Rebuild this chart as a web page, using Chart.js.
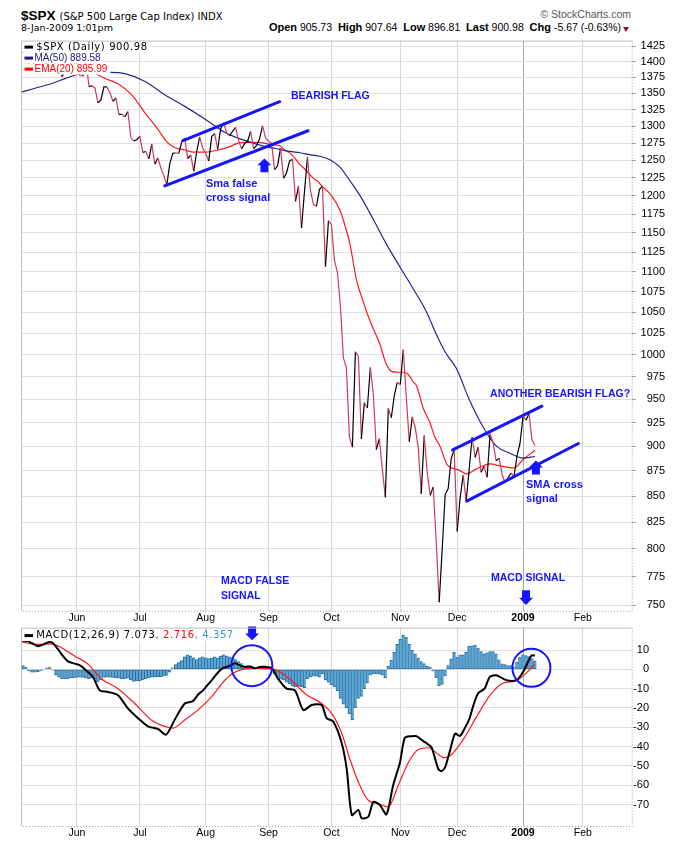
<!DOCTYPE html>
<html>
<head>
<meta charset="utf-8">
<script src="https://cdn.jsdelivr.net/npm/chart.js@4.4.0/dist/chart.umd.min.js"></script>
<style>
  body { margin: 0; background: #fff; width: 700px; height: 860px; position: relative; overflow: hidden; }
  .hd { position: absolute; white-space: nowrap; line-height: 14px; color: #000; }
  .hd b { font: bold 11px "Liberation Sans", Arial, sans-serif; }
  #priceChart { position: absolute; left: 0; top: 30px; }
  #macdChart { position: absolute; left: 0; top: 620px; }
</style>
</head>
<body>
<div class="hd" style="left:21px;top:8px;"><span style="font:bold 13.5px 'Liberation Sans',Arial,sans-serif">$SPX</span> <span style="font:10px 'DejaVu Sans',sans-serif">(S&amp;P 500 Large Cap Index) INDX</span></div>
<div class="hd" style="right:69px;top:8px;font:10.5px 'Liberation Sans',Arial,sans-serif;color:#555">&copy; StockCharts.com</div>
<div class="hd" style="left:21px;top:22px;font:9.5px 'DejaVu Sans',sans-serif">8-Jan-2009 1:01pm</div>
<div class="hd" style="right:79px;top:21px;font:10.5px 'Liberation Sans',Arial,sans-serif"><b>Open</b> 905.73&nbsp; <b>High</b> 907.64&nbsp; <b>Low</b> 896.81&nbsp; <b>Last</b> 900.98&nbsp; <b>Chg</b> -5.67 (-0.63%)</div>
<div style="position:absolute;left:623px;top:27px;width:0;height:0;border-left:3.5px solid transparent;border-right:3.5px solid transparent;border-top:5px solid #8b1538"></div>

<canvas id="priceChart" width="665" height="600"></canvas>
<canvas id="macdChart" width="649" height="240"></canvas>

<script>
// x = trading day index, 0 = 5-May-2008
const monthIdx = [19, 40, 62, 83, 104, 127, 146, 168, 188];
const monthLabels = ['Jun', 'Jul', 'Aug', 'Sep', 'Oct', 'Nov', 'Dec', '2009', 'Feb'];

const priceTicks = [750, 775, 800, 825, 850, 875, 900, 925, 950, 975, 1000, 1025, 1050, 1075, 1100,
  1125, 1150, 1175, 1200, 1225, 1250, 1275, 1300, 1325, 1350, 1375, 1400, 1425];
const macdTicks = [10, 0, -10, -20, -30, -40, -50, -60, -70];

// daily closes May 5 2008 .. Jan 8 2009
const closes = [
  1407.49, 1418.26, 1392.57, 1397.68, 1388.28, 1403.58, 1403.04, 1408.66, 1423.57, 1425.35,
  1426.63, 1413.40, 1390.71, 1394.35, 1375.93, 1385.35, 1390.84, 1398.26, 1400.38,
  1385.67, 1377.65, 1377.20, 1404.05, 1360.68, 1361.76, 1358.44, 1335.49, 1339.87, 1360.03,
  1360.14, 1350.93, 1337.81, 1342.83, 1317.93, 1318.00, 1314.29, 1321.97, 1283.15, 1278.38, 1280.00,
  1284.91, 1261.52, 1262.90, 1252.31, 1273.70, 1244.69, 1253.39, 1239.49, 1228.30, 1214.91,
  1245.36, 1260.32, 1260.68, 1260.00, 1277.00, 1282.19, 1252.54, 1257.76, 1234.37, 1263.20, 1284.26, 1267.38,
  1260.31, 1249.01, 1284.88, 1289.19, 1266.07, 1296.32, 1305.32, 1289.59, 1285.83, 1292.93,
  1298.20, 1278.60, 1266.69, 1274.54, 1277.72, 1292.20, 1266.84, 1271.51, 1281.66, 1300.68, 1282.83,
  1277.58, 1274.98, 1236.83, 1242.31, 1267.79, 1224.51, 1232.04, 1249.05, 1251.70, 1192.70,
  1213.60, 1156.39, 1206.51, 1255.08, 1207.09, 1188.22, 1185.87, 1209.18, 1213.27, 1106.39, 1166.36,
  1161.06, 1114.28, 1099.23, 1056.89, 996.23, 984.94, 909.92, 899.22, 1003.35, 998.01,
  907.84, 946.43, 940.55, 985.40, 955.05, 896.78, 908.11, 876.77, 848.92, 940.51, 930.09, 954.09, 968.75,
  966.30, 1005.75, 952.77, 904.88, 930.99, 919.21, 898.95, 852.30, 911.29, 873.29,
  850.75, 859.12, 806.58, 752.44, 800.03, 851.81, 857.39, 887.68, 896.24,
  816.21, 848.81, 870.74, 845.22, 876.07, 909.70, 888.67, 899.24, 873.59, 879.73,
  868.57, 913.18, 904.42, 885.28, 887.88, 871.63, 863.16, 868.15, 872.80, 869.42, 890.64, 903.25,
  931.80, 927.45, 934.70, 906.65, 900.98
];

// MA(50)
const ma50X = [0.4, 5, 10.4, 15, 19.3, 25, 30, 35, 41.6, 48.3, 55, 61.7, 68.3, 73, 77.2, 83.9, 86.8, 90,
  93.5, 97, 100.2, 103.5, 106.9, 110.2, 113.6, 118, 122.4, 126.9, 131.4, 135.8, 139.1, 142, 145.8, 150,
  154.7, 159.2, 163.6, 168, 172];
const ma50Y = [1352, 1358, 1365, 1373, 1380, 1382, 1383, 1381, 1369, 1348, 1330, 1311, 1291, 1282, 1276,
  1268, 1266, 1263, 1261, 1258, 1256, 1251, 1240, 1221, 1200, 1168, 1135, 1106, 1078, 1050, 1023, 1003,
  984, 950, 920, 900, 893, 888, 889.6];

// EMA(20)
const ema20X = [0, 6, 12, 18, 22, 25, 28, 32.7, 37.2, 41.6, 46.1, 49.4, 52, 55, 58, 61.7, 66.1, 70, 72.8,
  76, 79.5, 83.9, 86.8, 88, 90.6, 93.5, 95, 97.9, 99.5, 101, 103.5, 106.9, 108.5, 110.2, 112.4, 114.6,
  115.8, 118, 120.2, 122, 124.1, 126, 128, 129.5, 131.4, 132.4, 134.7, 136.9, 138.5, 140.3, 142.5, 144.2,
  146.5, 149.2, 152.5, 157, 160.4, 164.9, 168.2, 172];
const ema20Y = [1385, 1393, 1400, 1398, 1390, 1382, 1374, 1365, 1348, 1321, 1295, 1275, 1268, 1265, 1262,
  1262, 1265, 1270, 1275, 1276, 1276, 1273, 1271, 1266, 1259, 1244, 1238, 1225, 1220, 1213, 1203, 1180,
  1160, 1135, 1089, 1063, 1050, 1030, 1012, 992, 981, 980, 980, 978, 969, 965, 940, 925, 910, 900, 882,
  878, 876, 872, 877, 882, 880, 878, 887, 896];

// MACD(12,26,9) line
const macdX = [0.4, 2.6, 4, 6, 8, 9.9, 11, 12.7, 14, 16, 18.8, 20, 21.6, 24.4, 26.6, 29.4, 32.7, 36, 39.4,
  42.7, 46.1, 48.8, 51.6, 55, 57.7, 59.5, 61.1, 63.9, 67.2, 70, 71.8, 73.5, 75.1, 77, 78.5, 80, 81.8, 84,
  86.2, 89, 91.8, 94.6, 97.4, 100.7, 102.4, 104.6, 107.4, 109.1, 110.8, 113, 114.1, 116.3, 118, 120.2,
  122.4, 124.6, 126.9, 128.5, 130.8, 132.4, 134.7, 136, 137.5, 139.7, 140.8, 142, 143.6, 145.3, 146.9,
  148.6, 150.2, 151.3, 153, 155.2, 156.9, 159.1, 162.4, 165.8, 168, 170.8, 172];
const macdY = [14.9, 14.6, 13.5, 12.0, 13.0, 14.3, 13.5, 10.3, 7.5, 4.1, 2.7, 2.0, 0.1, -4.1, -10.9, -11.7,
  -13.4, -20.2, -25.3, -29.5, -30.9, -33.8, -26.2, -17.7, -16.5, -13.0, -10.9, -5.8, 0.1, 1.8, 3.1, 2.0,
  1.3, 1.5, 0.5, 1.2, 1.3, 0.7, -4.9, -10.0, -10.9, -21.1, -18.5, -18.5, -25.3, -27.0, -38.0, -51.6, -75.4,
  -72.8, -77.1, -76.3, -68.6, -70.3, -75.1, -60.1, -48.2, -35.5, -34.6, -34.6, -37.2, -38.5, -40.6, -51.6,
  -52.7, -50.6, -42.1, -33.3, -34.5, -30.3, -25.2, -19.2, -12.4, -9.9, -3.9, -3.1, -5.6, -5.6, -1.4, 7.1, 7.1];

// signal line
const signalX = [0.4, 6, 10.4, 13.8, 18.2, 22.7, 27.1, 32.7, 38.3, 43.8, 48.3, 51.1, 55, 59.4, 63.9, 68.3,
  71.1, 75.1, 79.6, 84, 87.9, 91.8, 95.2, 100.7, 104.1, 107.4, 110.2, 113, 116.3, 119.6, 123, 126.3, 129.7,
  133, 136.4, 139.7, 141.4, 143.6, 148, 152.5, 157, 161.4, 165.3, 168.1, 172];
const signalY = [14.3, 12.9, 13.2, 11.2, 6.9, 2.7, -4.9, -10.0, -17.7, -26.2, -29.5, -30.4, -26.2, -21.1,
  -14.3, -5.8, -2.0, 0.2, 0.5, 0.2, -2.4, -7.5, -12.6, -17.7, -22.8, -33.0, -46.6, -58.4, -67.8, -69.5,
  -71.2, -60.1, -48.2, -41.5, -40.6, -44.0, -45.7, -44.8, -36.4, -24.5, -13.4, -7.1, -6.1, -3.3, 2.7];

// histogram, one bar per trading day
const histVals = [
  2.5, 2, 1, -1, -1.5, -1.5, -1.2, -0.8, -0.3, 0.8,
  1.2, -0.5, -3, -4, -5, -5, -5, -4.5, -4.3, -4.2,
  -4, -4.2, -4.5, -4.8, -4.5, -5, -6.5, -5.5, -4.2, -4,
  -4, -4.2, -4.5, -4.6, -4.8, -5, -4.6, -5.5, -6.2, -6,
  -6, -5.5, -5, -4.5, -4, -4, -3.8, -3.8, -3.5, -3.2,
  -1.5, 0.8, 2.5, 3.5, 4.5, 6.5, 7.5, 7, 6, 5,
  6, 6.5, 6, 5.5, 5.8, 6.5, 6, 6.8, 7.5, 7,
  6.5, 6, 5, 4, 3, 1.5, 1, 1, 1.2, 0.8,
  1, 1.2, 1, 0.8, -0.5, -2.4, -4, -5, -5.5, -6.6,
  -7.5, -8.4, -9, -8.4, -9, -9.5, -5, -4, -3.5, -3.5,
  -4, -2.4, -5.5, -6.6, -8, -9, -11, -15, -18, -20,
  -23, -26, -20, -15, -14, -10, -7, -3, -2.4, -2.4,
  -2.5, -3, -4.3, 1.7, 4.6, 8.8, 13, 15.5, 17.7, 16.5,
  13, 10, 8, 6, 4, 3, 1.5, 1, -1, -4.3,
  -8.4, -7.8, -3.4, 2, 5.4, 8.8, 6.3, 7.5, 7.5, 8.8,
  11.9, 12.2, 12.6, 11, 9.2, 8, 8.5, 9.2, 9.2, 8,
  4.9, 2.9, 2.4, 2, 2, 1.2, 3.7, 6.3, 7.5, 7.1,
  6.6, 5.5, 4.4
];

// annotations, in data units (trading day, value)
const priceFlagLines = [
  [54.4, 1278.8, 86.7, 1337.2],
  [48.3, 1214, 96.2, 1293.3],
  [144.5, 896.3, 174.3, 942.6],
  [149.2, 845.2, 186.5, 903]
];
const priceNotes = [
  ['BEARISH FLAG', 90.5, 1345.9, 10.5],
  ['Sma false', 62.1, 1217, 11],
  ['cross signal', 62.1, 1197.7, 11],
  ['ANOTHER BEARISH FLAG?', 157, 956, 10.5],
  ['SMA cross', 169, 860.6, 11],
  ['signal', 169, 847, 11],
  ['MACD SIGNAL', 157.3, 773.3, 10.5],
  ['MACD FALSE', 67.1, 770.8, 10.5],
  ['SIGNAL', 67.1, 757.7, 10.5]
];
const priceArrows = [[81.6, 1233, 1252.9], [172.3, 871.5, 885.5], [169, 763, 750]];
const macdArrows = [[77.5, 22.2, 15]];
const macdCircles = [[77.4, 1.9, 6.85], [170.8, 0.8, 6.35]];

const BLUE = '#1515ff';
const GRID = '#e0e0e0';
const PLOT_RIGHT = 631.7;

function blockArrow(ctx, x, yBase, yTip) {
  const dir = yTip < yBase ? -1 : 1;
  const neck = yTip - dir * Math.abs(yTip - yBase) * 0.5;
  ctx.beginPath();
  ctx.moveTo(x, yTip);
  ctx.lineTo(x + 7, neck);
  ctx.lineTo(x + 4, neck);
  ctx.lineTo(x + 4, yBase);
  ctx.lineTo(x - 4, yBase);
  ctx.lineTo(x - 4, neck);
  ctx.lineTo(x - 7, neck);
  ctx.closePath();
  ctx.fill();
}

function drawLegend(chart, rows) {
  const ctx = chart.ctx, a = chart.chartArea;
  ctx.textBaseline = 'middle';
  ctx.textAlign = 'left';
  rows.forEach(r => {
    const y = a.top + r.dy;
    ctx.font = r.font;
    ctx.letterSpacing = r.ls;
    let w = 0;
    r.parts.forEach(p => { w += ctx.measureText(p[0]).width; });
    ctx.fillStyle = '#fff';
    ctx.fillRect(a.left + 1, y - 5.5, r.tx + w + 2, 11);
    ctx.fillStyle = r.dash;
    ctx.fillRect(a.left + 3.5, y - 1.5, 8.5, 3);
    let x = a.left + r.tx;
    r.parts.forEach(p => {
      ctx.fillStyle = p[1];
      ctx.fillText(p[0], x, y);
      x += ctx.measureText(p[0]).width;
    });
    ctx.letterSpacing = '0px';
  });
}

function drawFrame(chart) {
  const ctx = chart.ctx, a = chart.chartArea;
  ctx.save();
  ctx.strokeStyle = '#bdbdbd';
  ctx.lineWidth = 1;
  ctx.beginPath();
  ctx.moveTo(a.left + 0.5, a.bottom);
  ctx.lineTo(a.left + 0.5, a.top + 0.5);
  ctx.lineTo(a.right, a.top + 0.5);
  ctx.stroke();
  ctx.setLineDash([1, 2]);
  ctx.strokeStyle = '#9a9a9a';
  ctx.beginPath();
  ctx.moveTo(a.right + 0.5, a.top);
  ctx.lineTo(a.right + 0.5, a.bottom + 0.5);
  ctx.lineTo(a.left, a.bottom + 0.5);
  ctx.stroke();
  ctx.restore();
}

const overlay = {
  id: 'overlay',
  afterDatasetsDraw(chart, args, o) {
    const ctx = chart.ctx, xs = chart.scales.x, ys = chart.scales.y;
    ctx.save();
    drawLegend(chart, o.legend);
    ctx.strokeStyle = BLUE;
    ctx.fillStyle = BLUE;
    ctx.lineCap = 'round';
    (o.lines || []).forEach(l => {
      ctx.lineWidth = 3;
      ctx.beginPath();
      ctx.moveTo(xs.getPixelForValue(l[0]), ys.getPixelForValue(l[1]));
      ctx.lineTo(xs.getPixelForValue(l[2]), ys.getPixelForValue(l[3]));
      ctx.stroke();
    });
    (o.arrows || []).forEach(r => {
      blockArrow(ctx, xs.getPixelForValue(r[0]), ys.getPixelForValue(r[1]), ys.getPixelForValue(r[2]));
    });
    (o.circles || []).forEach(c => {
      const cx = xs.getPixelForValue(c[0]);
      const rad = xs.getPixelForValue(c[0] + c[2]) - cx;
      ctx.lineWidth = 2;
      ctx.beginPath();
      ctx.arc(cx, ys.getPixelForValue(c[1]), rad, 0, Math.PI * 2);
      ctx.stroke();
    });
    ctx.textBaseline = 'middle';
    ctx.textAlign = 'left';
    (o.notes || []).forEach(n => {
      ctx.font = 'bold ' + n[3] + 'px "Liberation Sans", Arial, sans-serif';
      ctx.fillText(n[0], xs.getPixelForValue(n[1]), ys.getPixelForValue(n[2]));
    });
    ctx.restore();
  },
  afterDraw(chart) { drawFrame(chart); }
};

function monthAxis(height) {
  return {
    type: 'linear',
    min: 0.3,
    max: 204.3,
    offset: false,
    afterBuildTicks: s => { s.ticks = monthIdx.map(v => ({ value: v })); },
    afterFit: s => { s.height = height; },
    border: { display: false },
    grid: {
      offset: false,
      drawTicks: false,
      color: c => monthLabels[c.index] === '2009' ? '#a8a8a8' : '#d6d6d6'
    },
    ticks: {
      autoSkip: false,
      maxRotation: 0,
      padding: 1,
      color: '#000',
      font: c => ({ family: '"Liberation Sans", Arial, sans-serif', size: 10.5,
        weight: monthLabels[c.index] === '2009' ? 'bold' : 'normal' }),
      callback: (v, i) => monthLabels[i]
    }
  };
}

const legendFont = '10px "DejaVu Sans", sans-serif';
const legendFont2 = '10px "Liberation Sans", Arial, sans-serif';

const priceCanvas = document.getElementById('priceChart');
const macdCanvas = document.getElementById('macdChart');

new Chart(priceCanvas, {
  type: 'line',
  data: {
    datasets: [
      {
        data: closes.map((v, i) => ({ x: i, y: v })),
        borderWidth: 1.2,
        borderColor: '#000',
        segment: { borderColor: c => c.p1.parsed.y < c.p0.parsed.y ? '#d0385a' : '#000' },
        pointRadius: 0,
        tension: 0
      },
      {
        data: ma50X.map((x, i) => ({ x: x, y: ma50Y[i] })),
        borderWidth: 1.2,
        borderColor: '#26268c',
        pointRadius: 0,
        cubicInterpolationMode: 'monotone'
      },
      {
        data: ema20X.map((x, i) => ({ x: x, y: ema20Y[i] })),
        borderWidth: 1.2,
        borderColor: '#ff1a1a',
        pointRadius: 0,
        cubicInterpolationMode: 'monotone'
      }
    ]
  },
  options: {
    responsive: false,
    animation: false,
    devicePixelRatio: 1,
    layout: { padding: { left: 21, top: 5, right: 0, bottom: 0 } },
    scales: {
      x: monthAxis(19.3),
      y: {
        type: 'logarithmic',
        position: 'right',
        min: 745.2,
        max: 1434.4,
        afterBuildTicks: s => { s.ticks = priceTicks.map(v => ({ value: v })); },
        afterFit: s => { s.width = priceCanvas.width - PLOT_RIGHT; },
        border: { display: false },
        grid: { color: GRID, tickColor: '#999', tickLength: 4 },
        ticks: {
          autoSkip: false,
          crossAlign: 'far',
          padding: 4,
          color: '#000',
          font: { family: '"Liberation Sans", Arial, sans-serif', size: 11 },
          callback: v => String(v)
        }
      }
    },
    plugins: {
      legend: { display: false },
      tooltip: { enabled: false },
      overlay: {
        legend: [
          { dy: 6.5, tx: 15.3, font: legendFont, ls: '0.6px', dash: '#000', parts: [['$SPX (Daily) 900.98', '#000']] },
          { dy: 17.5, tx: 13.5, font: legendFont2, ls: '0px', dash: '#1a1a80', parts: [['MA(50) 889.58', '#1a1a80']] },
          { dy: 28.5, tx: 13.5, font: legendFont2, ls: '0px', dash: '#f00', parts: [['EMA(20) 895.99', '#f00']] }
        ],
        lines: priceFlagLines,
        arrows: priceArrows,
        notes: priceNotes
      }
    }
  },
  plugins: [overlay]
});

new Chart(macdCanvas, {
  type: 'bar',
  data: {
    datasets: [
      {
        type: 'line',
        data: macdX.map((x, i) => ({ x: x, y: macdY[i] })),
        borderWidth: 2,
        borderColor: '#000',
        pointRadius: 0,
        tension: 0.25
      },
      {
        type: 'line',
        data: signalX.map((x, i) => ({ x: x, y: signalY[i] })),
        borderWidth: 1.2,
        borderColor: '#ff1a1a',
        pointRadius: 0,
        cubicInterpolationMode: 'monotone'
      },
      {
        type: 'bar',
        data: histVals.map((v, i) => ({ x: i, y: v })),
        backgroundColor: '#5aa6d6',
        borderColor: '#2c6b9a',
        borderWidth: { top: 1, bottom: 1, left: 1, right: 0 },
        borderSkipped: false,
        barPercentage: 1,
        categoryPercentage: 1
      }
    ]
  },
  options: {
    responsive: false,
    animation: false,
    devicePixelRatio: 1,
    layout: { padding: { left: 21, top: 5, right: 0, bottom: 0 } },
    scales: {
      x: monthAxis(34),
      y: {
        type: 'linear',
        position: 'right',
        min: -81.1,
        max: 21.6,
        afterBuildTicks: s => { s.ticks = macdTicks.map(v => ({ value: v })); },
        afterFit: s => { s.width = macdCanvas.width - PLOT_RIGHT; },
        border: { display: false },
        grid: { color: GRID, drawTicks: false },
        ticks: {
          autoSkip: false,
          crossAlign: 'far',
          padding: 1,
          color: '#000',
          font: { family: '"Liberation Sans", Arial, sans-serif', size: 11 },
          callback: v => String(v)
        }
      }
    },
    plugins: {
      legend: { display: false },
      tooltip: { enabled: false },
      overlay: {
        legend: [
          { dy: 8, tx: 15.3, font: legendFont, ls: '0.6px', dash: '#000',
            parts: [['MACD(12,26,9) 7.073', '#000'], [', 2.716', '#f00'], [', 4.357', '#3399cc']] }
        ],
        arrows: macdArrows,
        circles: macdCircles
      }
    }
  },
  plugins: [overlay]
});
</script>
</body>
</html>
